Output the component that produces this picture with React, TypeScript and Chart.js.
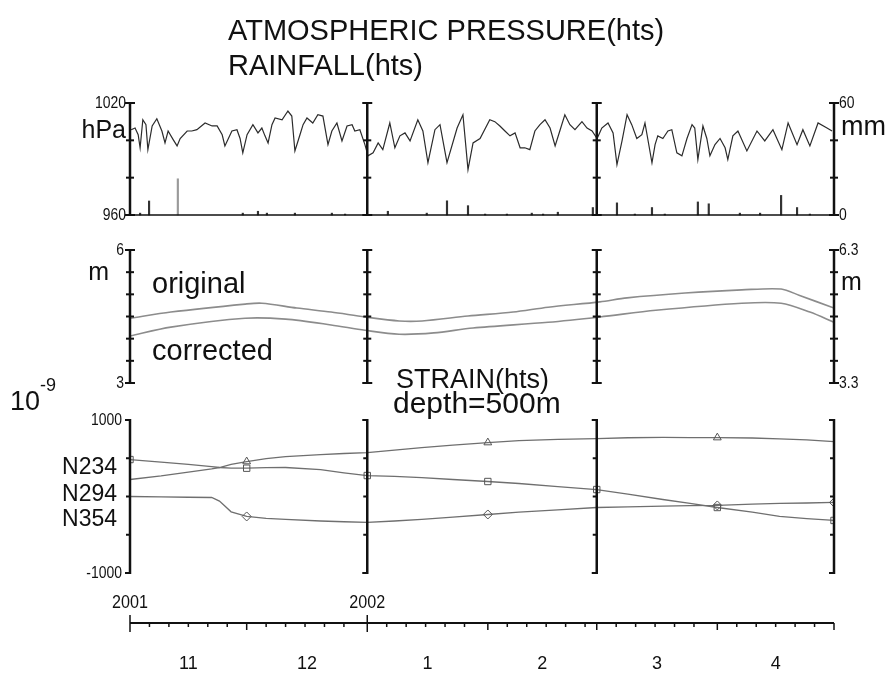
import React, { useEffect, useRef } from 'react';
import { Chart, registerables } from 'chart.js';

Chart.register(...registerables);

const FONT = "'Liberation Sans Narrow', 'Arial Narrow', 'Liberation Sans', Arial, sans-serif";

// ---- time axis (days since 1 Nov 2001) ----
const monthStartDays = [0, 30, 61, 92, 120, 151, 181];
const monthLabels = ['11', '12', '1', '2', '3', '4'];
const yearLabels = ['2001', '2002'];
const yearDays = [0, 61];
const frameDays = [0, 61, 120, 181];

// ---- atmospheric pressure (hPa) ----
const pressureDays = [
  0.3, 1.3, 2.1, 2.6, 3.3, 4.1, 4.6, 5.7, 6.9, 8.2,
  9.0, 9.8, 11.1, 12.1, 12.9, 14.7, 15.9, 17.2, 19.3, 21.1,
  22.4, 23.7, 24.4, 26.2, 27.5, 28.3, 29.0, 30.1, 31.6, 32.9,
  33.9, 34.7, 35.5, 36.5, 37.3, 39.1, 40.6, 41.6, 42.4, 43.7,
  44.5, 45.5, 47.0, 48.3, 49.6, 50.9, 51.9, 53.2, 54.5, 55.8,
  57.1, 57.8, 59.1, 60.4, 61.2, 62.5, 63.8, 65.0, 66.8, 68.1,
  69.4, 70.7, 72.0, 74.0, 75.3, 76.6, 78.4, 79.7, 81.5, 84.1,
  85.6, 86.9, 88.2, 90.0, 92.5, 93.8, 95.1, 96.4, 97.7, 99.0,
  100.3, 101.5, 102.8, 104.1, 105.4, 106.7, 108.0, 109.3, 110.5, 111.8,
  113.1, 114.4, 116.2, 117.5, 118.8, 120.1, 121.3, 122.9, 124.2, 125.2,
  126.5, 127.8, 129.0, 130.3, 131.6, 132.4, 134.2, 135.0, 135.7, 137.0,
  138.3, 139.3, 140.6, 141.9, 143.2, 144.5, 145.2, 146.0, 147.3, 148.3,
  149.1, 150.4, 151.7, 153.0, 153.7, 155.0, 156.3, 158.6, 161.2, 163.2,
  165.3, 167.6, 169.2, 171.5, 173.0, 174.8, 176.9, 179.2, 180.5,
];
const pressureHpa = [
  1005.7, 1006.6, 1003, 996, 1011, 1008.4, 995, 1007.7, 1011.6, 1005,
  998.6, 1005, 1000.4, 997, 1001, 1005, 1005, 1005.7, 1009.3, 1007.7,
  1007.7, 1003, 997, 1005, 1005.7, 1001, 993.3, 1003, 1008.4, 1004,
  1006.6, 1002.4, 998.6, 1008.4, 1012, 1011, 1015.7, 1013, 994.3, 1003,
  1008.4, 1012, 1009.3, 1013.7, 1013, 997.7, 1005, 1009.3, 999.7, 1007.7,
  1008.4, 1005, 1005.7, 997.7, 991.7, 993.3, 998.6, 995, 1009.3, 996,
  1002.4, 1004, 999.7, 1011, 1005, 988, 1005.7, 1008.4, 988, 1006.6,
  1013.7, 984.3, 998.6, 1001, 1011, 1010, 1007.7, 1005, 1002.4, 1004,
  996, 996, 995, 1005, 1008.4, 1011, 1006.6, 997, 1005, 1013.7,
  1008.4, 1005.7, 1010, 1006.6, 1005, 1001, 1006.6, 1009.3, 1004, 987,
  999.7, 1013.7, 1008.4, 1001, 1003, 1009.3, 988, 997.7, 1002.4, 1001,
  1005, 1005.7, 993.3, 991.7, 1001, 1008.4, 1006.6, 989.7, 1007.7, 1001,
  991.7, 997.7, 1001, 996, 989.7, 1002.4, 1005, 994.3, 1005, 999.7,
  1005.7, 995, 1009.3, 997.7, 1005.7, 997, 1009.3, 1006.6, 1005,
];

// ---- rainfall (mm) ----
const rainDays = [2.6, 4.9, 12.3, 29, 32.9, 35.2, 42.4, 51.9, 55.3, 66.3, 76.3, 81.5, 86.9, 91.3, 96.9,
  103.3, 106.2, 110, 119, 125.2, 129.8, 134.2, 137.5, 146, 148.8, 156.8, 162, 167.4, 171.5, 174.8];
const rainMm = [1, 7.5, 19.4, 1, 2, 1, 1, 1, 0.5, 2, 1, 7.6, 5, 0.5, 0.5,
  1, 0.5, 1.5, 4, 6.5, 0.5, 4, 0.5, 7, 6, 1, 1, 10.5, 4, 0.5];

// ---- groundwater level (m) ----
const levelOrigDays = [0, 10.5, 29.6, 33.9, 42.9, 51.7, 60.4, 69.2, 75.1, 86.9, 98.5, 107.5, 120.8, 127.8, 142.7, 157.3, 167.4, 172, 181];
const levelOriginal = [4.46, 4.60, 4.78, 4.80, 4.69, 4.60, 4.49, 4.40, 4.40, 4.51, 4.60, 4.71, 4.83, 4.92, 5.03, 5.10, 5.12, 4.98, 4.69];
const levelCorrDays = [0, 10.5, 29.6, 40, 51.7, 60.4, 69.2, 78.1, 88.2, 107.5, 120.8, 135.2, 157.3, 167.4, 174.8, 181];
const levelCorrected = [4.06, 4.26, 4.46, 4.44, 4.31, 4.19, 4.10, 4.13, 4.24, 4.37, 4.49, 4.64, 4.80, 4.80, 4.60, 4.37];

// ---- strain (1e-9) ----
const strainDays = [0, 8, 15, 21, 23, 26, 30, 35, 40, 49, 55, 61, 68, 75, 83, 92, 100, 110, 120, 128, 137, 144, 151, 160, 167, 174, 181];
const strainN234 = [483, 450, 420, 390, 379, 372, 370, 378, 379, 352, 310, 274, 262, 248, 222, 196, 170, 130, 91, 30, -39, -90, -144, -205, -261, -290, -313];
const strainN294 = [222, 270, 320, 360, 379, 420, 457, 495, 522, 548, 562, 574, 606, 640, 672, 705, 730, 748, 757, 768, 772, 770, 770, 765, 752, 740, 718];
const strainN354 = [0, -5, -10, -13, -60, -200, -261, -285, -300, -320, -330, -339, -320, -300, -270, -235, -205, -175, -144, -135, -125, -120, -117, -100, -90, -85, -78];
const markersN234 = [0, 30, 61, 92, 120, 151, 181];
const markersN294 = [30, 92, 151];
const markersN354 = [30, 92, 151, 181];

// ---- axis ticks ----
const pressureTicks = [960, 980, 1000, 1020];
const pressureLabels = [960, 1020];
const rainLabels = [0, 60];
const levelTicks = [3, 3.5, 4, 4.5, 5, 5.5, 6];
const levelLabels = [3, 6];
const levelRightLabels = [3.3, 6.3];
const strainTicks = [-1000, -500, 0, 500, 1000];
const strainLabels = [-1000, 1000];

// ---- layout (pixels) ----
const AREA_TOP = 103;
const AREA_BOTTOM = 623;

function rangeFor(lo: number, hi: number, top: number, bottom: number) {
  const ppu = (bottom - top) / (hi - lo);
  return { min: lo - (AREA_BOTTOM - bottom) / ppu, max: hi + (top - AREA_TOP) / ppu };
}

function yScale(position: string, lo: number, hi: number, top: number, bottom: number) {
  const r = rangeFor(lo, hi, top, bottom);
  return {
    type: 'linear',
    position,
    min: r.min,
    max: r.max,
    grid: { display: false, drawTicks: false },
    border: { display: false },
    afterFit: (s: any) => { s.width = 0; },
    ticks: { display: false },
  };
}

const texts = [
  { t: 'ATMOSPHERIC PRESSURE(hts)', x: 228, y: 32, size: 29, align: 'left' },
  { t: 'RAINFALL(hts)', x: 228, y: 67, size: 29, align: 'left' },
  { t: 'hPa', x: 126, y: 131, size: 25, align: 'right' },
  { t: 'mm', x: 841, y: 128, size: 27, align: 'left' },
  { t: 'm', x: 109, y: 273, size: 25, align: 'right' },
  { t: 'm', x: 841, y: 283, size: 25, align: 'left' },
  { t: 'original', x: 152, y: 285, size: 29, align: 'left' },
  { t: 'corrected', x: 152, y: 352, size: 29, align: 'left' },
  { t: 'STRAIN(hts)', x: 396, y: 381, size: 27, align: 'left' },
  { t: 'depth=500m', x: 393, y: 405, size: 30, align: 'left' },
  { t: '10', x: 10, y: 403, size: 27, align: 'left' },
  { t: '-9', x: 40, y: 386, size: 18, align: 'left' },
  { t: 'N234', x: 117, y: 468, size: 23, align: 'right' },
  { t: 'N294', x: 117, y: 495, size: 23, align: 'right' },
  { t: 'N354', x: 117, y: 520, size: 23, align: 'right' },
];

function drawCondensed(ctx: any, text: string, x: number, y: number, size: number, align: string, sx: number) {
  ctx.save();
  ctx.translate(x, y);
  ctx.scale(sx, 1);
  ctx.font = `${size}px ${FONT}`;
  ctx.textAlign = align;
  ctx.textBaseline = 'middle';
  ctx.fillText(text, 0, 0);
  ctx.restore();
}

const framePlugin = {
  id: 'frame',
  afterDraw(chart: any) {
    const ctx = chart.ctx;
    const x = chart.scales.x;
    const sc = chart.scales;
    ctx.save();
    ctx.strokeStyle = '#111';
    ctx.fillStyle = '#111';
    ctx.lineCap = 'butt';

    const panels = [
      { s: sc.yP, ticks: pressureTicks, side: 'both' },
      { s: sc.yL, ticks: levelTicks, side: 'both' },
      { s: sc.yS, ticks: strainTicks, side: 'left' },
    ];
    for (const p of panels) {
      const top = p.s.getPixelForValue(p.ticks[p.ticks.length - 1]);
      const bottom = p.s.getPixelForValue(p.ticks[0]);
      for (const d of frameDays) {
        const px = x.getPixelForValue(d);
        ctx.lineWidth = 2.5;
        ctx.beginPath();
        ctx.moveTo(px, top - 1);
        ctx.lineTo(px, bottom + 1);
        ctx.stroke();
        ctx.lineWidth = 2;
        for (const t of p.ticks) {
          const py = p.s.getPixelForValue(t);
          const end = t === p.ticks[0] || t === p.ticks[p.ticks.length - 1];
          const w = end ? 5 : 4;
          ctx.beginPath();
          ctx.moveTo(px - w, py);
          ctx.lineTo(p.side === 'both' ? px + w : px, py);
          ctx.stroke();
        }
      }
    }

    // axis value labels
    const left = x.getPixelForValue(0);
    const right = x.getPixelForValue(181);
    const axisLabels = [
      { s: sc.yP, vals: pressureLabels, side: 'left', dx: 4 },
      { s: sc.yR, vals: rainLabels, side: 'right', dx: 5 },
      { s: sc.yL, vals: levelLabels, side: 'left', dx: 6 },
      { s: sc.yL2, vals: levelRightLabels, side: 'right', dx: 5 },
      { s: sc.yS, vals: strainLabels, side: 'left', dx: 8 },
    ];
    for (const a of axisLabels) {
      for (const v of a.vals) {
        const py = a.s.getPixelForValue(v);
        drawCondensed(ctx, String(v), a.side === 'left' ? left - a.dx : right + a.dx, py,
          17, a.side === 'left' ? 'right' : 'left', 0.82);
      }
    }

    // rain baseline
    const yb = sc.yR.getPixelForValue(0);
    ctx.lineWidth = 1.5;
    ctx.beginPath();
    ctx.moveTo(left, yb);
    ctx.lineTo(right, yb);
    ctx.stroke();

    // time axis
    const ay = chart.chartArea.bottom;
    ctx.lineWidth = 2;
    ctx.beginPath();
    ctx.moveTo(left, ay);
    ctx.lineTo(right, ay);
    ctx.stroke();
    ctx.lineWidth = 1.5;
    for (let i = 0; i < monthStartDays.length; i++) {
      const d = monthStartDays[i];
      const px = x.getPixelForValue(d);
      const isYear = yearDays.includes(d);
      ctx.beginPath();
      ctx.moveTo(px, ay - (isYear ? 8 : 0));
      ctx.lineTo(px, ay + (isYear ? 9 : 7));
      ctx.stroke();
      if (i < monthStartDays.length - 1) {
        const next = monthStartDays[i + 1];
        for (let k = d + 5; k < next - 2; k += 5) {
          const mx = x.getPixelForValue(k);
          ctx.beginPath();
          ctx.moveTo(mx, ay);
          ctx.lineTo(mx, ay + 4);
          ctx.stroke();
        }
      }
    }
    yearLabels.forEach((lab, i) => {
      drawCondensed(ctx, lab, x.getPixelForValue(yearDays[i]), 603, 19, 'center', 0.85);
    });

    for (const tx of texts) {
      ctx.font = `${tx.size}px ${FONT}`;
      ctx.textAlign = tx.align;
      ctx.textBaseline = 'middle';
      ctx.fillText(tx.t, tx.x, tx.y);
    }
    ctx.restore();
  },
};

function xy(days: number[], vals: number[]) {
  return days.map((d, i) => ({ x: d, y: vals[i] }));
}

function markerRadius(days: number[], marks: number[]) {
  return (c: any) => (marks.includes(days[c.dataIndex]) ? 4.5 : 0);
}

export default function App() {
  const ref = useRef<HTMLCanvasElement>(null);
  useEffect(() => {
    const monthMid = monthLabels.map((_, i) => (monthStartDays[i] + monthStartDays[i + 1]) / 2);
    const strainStyle = (vals: number[], marks: number[], style: string) => ({
      type: 'line',
      yAxisID: 'yS',
      data: xy(strainDays, vals),
      borderColor: '#6f6f6f',
      borderWidth: 1.3,
      pointStyle: style,
      pointRadius: markerRadius(strainDays, marks),
      pointBorderColor: '#555',
      pointBackgroundColor: 'rgba(255,255,255,0)',
      pointBorderWidth: 1,
      tension: 0,
    });
    const chart = new Chart(ref.current as HTMLCanvasElement, {
      type: 'line',
      data: {
        datasets: [
          {
            type: 'line',
            yAxisID: 'yP',
            data: xy(pressureDays, pressureHpa),
            borderColor: '#2b2b2b',
            borderWidth: 1.2,
            pointRadius: 0,
            tension: 0,
          },
          {
            type: 'bar',
            yAxisID: 'yR',
            data: xy(rainDays, rainMm),
            backgroundColor: (c: any) => (rainMm[c.dataIndex] > 15 ? '#9a9a9a' : '#333'),
            barThickness: 1.5,
            grouped: false,
          },
          {
            type: 'line',
            yAxisID: 'yL',
            data: xy(levelOrigDays, levelOriginal),
            borderColor: '#8c8c8c',
            borderWidth: 1.6,
            pointRadius: 0,
            tension: 0.3,
          },
          {
            type: 'line',
            yAxisID: 'yL',
            data: xy(levelCorrDays, levelCorrected),
            borderColor: '#8c8c8c',
            borderWidth: 1.6,
            pointRadius: 0,
            tension: 0.3,
          },
          strainStyle(strainN234, markersN234, 'rect'),
          strainStyle(strainN294, markersN294, 'triangle'),
          strainStyle(strainN354, markersN354, 'rectRot'),
        ] as any,
      },
      options: {
        responsive: false,
        animation: false,
        devicePixelRatio: 1,
        events: [],
        layout: { padding: { left: 130, right: 58, top: AREA_TOP, bottom: 0 } },
        plugins: { legend: { display: false }, tooltip: { enabled: false }, title: { display: false } },
        scales: {
          x: {
            type: 'linear',
            position: 'bottom',
            min: 0,
            max: 181,
            offset: false,
            grid: { display: false, drawTicks: false, offset: false },
            border: { display: false },
            afterFit: (s: any) => { s.height = 674 - AREA_BOTTOM; },
            afterBuildTicks: (s: any) => { s.ticks = monthMid.map((v) => ({ value: v })); },
            ticks: {
              autoSkip: false,
              maxRotation: 0,
              padding: 30,
              color: '#111',
              font: { family: FONT, size: 18 },
              callback: (_v: any, i: number) => monthLabels[i],
            },
          },
          yP: yScale('left', 960, 1020, 103, 215),
          yR: yScale('right', 0, 60, 103, 215),
          yL: yScale('left', 3, 6, 250, 383),
          yL2: yScale('right', 3.3, 6.3, 250, 383),
          yS: yScale('left', -1000, 1000, 420, 573),
        } as any,
      },
      plugins: [framePlugin],
    } as any);
    return () => chart.destroy();
  }, []);

  return (
    <div style={{ position: 'absolute', left: 0, top: 0, width: 892, height: 674, background: '#fff' }}>
      <canvas ref={ref} width={892} height={674} style={{ width: 892, height: 674, display: 'block' }} />
    </div>
  );
}
